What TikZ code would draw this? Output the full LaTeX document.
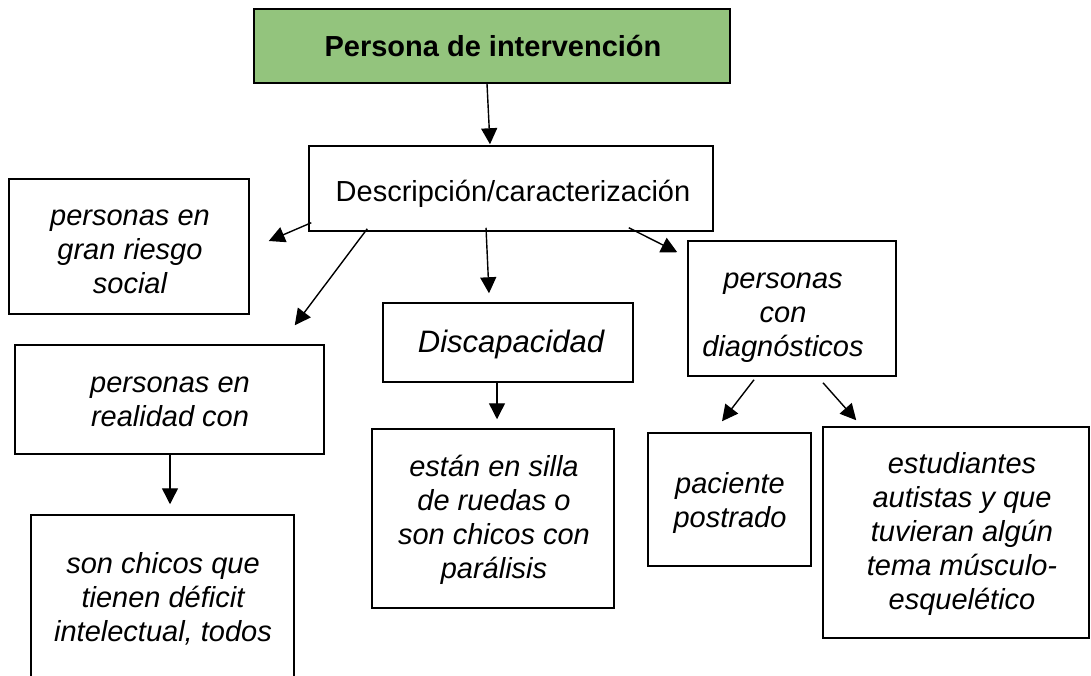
\documentclass[tikz,border=0pt]{standalone}
\usepackage{fontspec}
\setmainfont{Liberation Sans}
\usetikzlibrary{arrows.meta,calc}
\definecolor{titlegreen}{RGB}{147,196,125}
\newcommand{\mlines}[1]{\begin{tabular}[t]{@{}c@{}}#1\end{tabular}}
\begin{document}
\begin{tikzpicture}[x=1pt,y=-1pt,
  box/.style={draw=black, line width=1.5pt, inner sep=0pt, rectangle},
  txt/.style={inner sep=0pt, anchor=base, font=\fontsize{29}{34}\selectfont\itshape},
  arr/.style={line width=1.4pt, -{Triangle[length=16pt,width=16pt]}}]
\clip (0,0) rectangle (1091,675);
% boxes
\node[box, fill=titlegreen, minimum width=476pt, minimum height=74pt] (title) at (492,46) {};
\node[box, minimum width=404pt, minimum height=85pt] (desc) at (511,188.5) {};
\node[box, minimum width=240pt, minimum height=135pt] (gran) at (129,246.5) {};
\node[box, minimum width=309pt, minimum height=109pt] (real) at (169.5,399.5) {};
\node[box, minimum width=250pt, minimum height=79pt] (disc) at (508,342.5) {};
\node[box, minimum width=208pt, minimum height=135pt] (diag) at (792,308.5) {};
\node[box, minimum width=242pt, minimum height=179pt] (silla) at (493,518.5) {};
\node[box, minimum width=163pt, minimum height=133pt] (post) at (729.5,499.5) {};
\node[box, minimum width=266pt, minimum height=211pt] (estud) at (956,532.5) {};
\node[box, minimum width=263pt, minimum height=185pt] (son) at (162.5,607.5) {};
% texts
\node[txt, font=\fontsize{29}{34}\selectfont\bfseries] (titlet) at (493,56) {Persona de intervención};
\node[txt, font=\fontsize{29}{34}\selectfont] (desct) at (513,201) {Descripción/caracterización};
\node[txt] (grant) at (130,225) {\mlines{personas en\\gran riesgo\\social}};
\node[txt] (realt) at (170,392) {\mlines{personas en\\realidad con}};
\node[txt] (sont) at (163,573) {\mlines{son chicos que\\tienen déficit\\intelectual, todos}};
\node[txt, font=\fontsize{31}{34}\selectfont\itshape] (disct) at (511,352) {Discapacidad};
\node[txt] (diagt) at (783,288) {\mlines{personas\\con\\diagnósticos}};
\node[txt] (sillat) at (494,476) {\mlines{están en silla\\de ruedas o\\son chicos con\\parálisis}};
\node[txt] (postt) at (730,493) {\mlines{paciente\\postrado}};
\node[txt] (estudt) at (962,473) {\mlines{estudiantes\\autistas y que\\tuvieran algún\\tema músculo-\\esquelético}};
% connectors
\draw[arr] ($(title.south)+(-5,0)$) -- ($(desc.north)+(-21,-1)$);
\draw[arr] ($(desc.south west)+(3,-9)$) -- ($(gran.east)+(19,-5.5)$);
\draw[arr] ($(desc.south west)+(59,-3)$) -- ($(real.north east)+(-30,-19)$);
\draw[arr] ($(desc.south)+(-25,-4)$) -- ($(disc.north)+(-19,-9)$);
\draw[arr] ($(desc.south east)+(-85,-4)$) -- ($(diag.north west)+(-10,12)$);
\draw[arr] ($(real.south)+(0.5,0)$) -- ($(son.north)+(7.5,-10)$);
\draw[arr] ($(disc.south)+(-11,0)$) -- ($(silla.north)+(4,-9)$);
\draw[arr] ($(diag.south)+(-38,3)$) -- ($(post.north)+(-7.5,-11)$);
\draw[arr] ($(diag.south)+(31,6)$) -- ($(estud.north west)+(34,-6)$);
\end{tikzpicture}
\end{document}
